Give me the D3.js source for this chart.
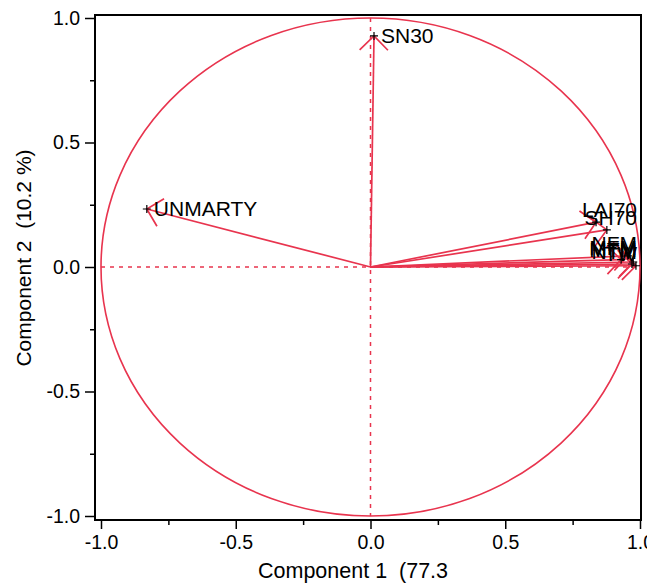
<!DOCTYPE html>
<html>
<head>
<meta charset="utf-8">
<script src="https://cdn.jsdelivr.net/npm/d3@7"></script>
<style>
  body { margin: 0; background: #fff; }
  text { font-family: "Liberation Sans", Arial, sans-serif; }
</style>
</head>
<body>
<svg id="chart" width="647" height="584"></svg>
<script>
// loadings
const names = ['SN30', 'UNMARTY', 'LAI70', 'SH70', 'NFM', 'MFM', 'MTM', 'TW', 'NTM']
const comp1 = [0.013, -0.83, 0.837, 0.877, 0.955, 0.93, 0.975, 0.985, 0.97]
const comp2 = [0.928, 0.233, 0.18, 0.149, 0.045, 0.03, 0.02, 0.005, 0.012]
const majorTicks = [-1.0, -0.5, 0.0, 0.5, 1.0]
const minorTicks = [-0.75, -0.25, 0.25, 0.75]
const xTitle = 'Component 1  (77.3'
const yTitle = 'Component 2  (10.2 %)'

const red = '#e8344e'
const frame = { left: 95, right: 641, top: 15, bottom: 520 }

const svg = d3.select('#chart')

const x = d3.scaleLinear().domain([-1, 1]).range([101, 640])
const y = d3.scaleLinear().domain([-1, 1]).range([516, 18])

const fmt = d => d3.format('.1f')(d).replace('\u2212', '-')

// Y axis, major and minor ticks
svg.append('g')
    .attr('transform', 'translate(' + frame.left + ',0)')
    .call(d3.axisLeft(y).tickValues(majorTicks).tickSize(10).tickPadding(5).tickFormat(fmt))
    .call(g => g.select('.domain').remove())
    .call(g => g.selectAll('text').attr('font-size', 19.5).attr('font-family', null).attr('fill', '#000'))
    .call(g => g.selectAll('line').attr('stroke', '#000').attr('stroke-width', 1.5))
svg.append('g')
    .attr('transform', 'translate(' + frame.left + ',0)')
    .call(d3.axisLeft(y).tickValues(minorTicks).tickSize(5).tickFormat(''))
    .call(g => g.select('.domain').remove())
    .call(g => g.selectAll('line').attr('stroke', '#000').attr('stroke-width', 1.5))

// X axis
svg.append('g')
    .attr('transform', 'translate(0,' + frame.bottom + ')')
    .call(d3.axisBottom(x).tickValues(majorTicks).tickSize(9).tickPadding(6).tickFormat(fmt))
    .call(g => g.select('.domain').remove())
    .call(g => g.selectAll('text').attr('font-size', 19.5).attr('font-family', null).attr('fill', '#000'))
    .call(g => g.selectAll('line').attr('stroke', '#000').attr('stroke-width', 1.5))
svg.append('g')
    .attr('transform', 'translate(0,' + frame.bottom + ')')
    .call(d3.axisBottom(x).tickValues(minorTicks).tickSize(5).tickFormat(''))
    .call(g => g.select('.domain').remove())
    .call(g => g.selectAll('line').attr('stroke', '#000').attr('stroke-width', 1.5))

// plot frame
svg.append('rect')
    .attr('x', frame.left)
    .attr('y', frame.top)
    .attr('width', frame.right - frame.left)
    .attr('height', frame.bottom - frame.top)
    .attr('fill', 'none')
    .attr('stroke', '#000')
    .attr('stroke-width', 2)

// dotted zero lines
svg.append('line')
    .attr('x1', x(-1)).attr('x2', x(1))
    .attr('y1', y(0)).attr('y2', y(0))
    .attr('stroke', red).attr('stroke-width', 1.5).attr('stroke-dasharray', '4,5')
svg.append('line')
    .attr('x1', x(0)).attr('x2', x(0))
    .attr('y1', y(1)).attr('y2', y(-1))
    .attr('stroke', red).attr('stroke-width', 1.5).attr('stroke-dasharray', '4,5')

// correlation circle
svg.append('ellipse')
    .attr('cx', x(0)).attr('cy', y(0))
    .attr('rx', x(1) - x(0)).attr('ry', y(0) - y(1))
    .attr('fill', 'none')
    .attr('stroke', red)
    .attr('stroke-width', 1.6)

// vectors with arrow heads
const points = names.map((n, i) => ({ name: n, px: x(comp1[i]), py: y(comp2[i]) }))
const ox = x(0), oy = y(0)
const headLen = 20, headAng = Math.PI / 4

const vec = svg.append('g')
    .attr('stroke', red)
    .attr('stroke-width', 1.7)
    .attr('fill', 'none')
points.forEach(p => {
  const back = Math.atan2(oy - p.py, ox - p.px)
  const w1 = [p.px + headLen * Math.cos(back + headAng), p.py + headLen * Math.sin(back + headAng)]
  const w2 = [p.px + headLen * Math.cos(back - headAng), p.py + headLen * Math.sin(back - headAng)]
  vec.append('line').attr('x1', ox).attr('y1', oy).attr('x2', p.px).attr('y2', p.py)
  vec.append('path').attr('d', 'M' + w1 + 'L' + p.px + ',' + p.py + 'L' + w2)
})

// + markers and labels, labels kept inside the frame
const lab = svg.append('g')
points.forEach(p => {
  lab.append('path')
      .attr('d', 'M' + (p.px - 4) + ',' + p.py + 'h8M' + p.px + ',' + (p.py - 4) + 'v8')
      .attr('stroke', '#000').attr('stroke-width', 1.2)
  const t = lab.append('text')
      .attr('font-size', 21)
      .attr('fill', '#000')
      .text(p.name)
  const w = t.node().getComputedTextLength()
  let tx = p.px + 7, ty = p.py + 7
  if (tx + w > frame.right - 4) {
    tx = frame.right - 4 - w
    ty = p.py - 5
  }
  t.attr('x', tx).attr('y', ty)
})

// axis titles
svg.append('text')
    .attr('x', 258)
    .attr('y', 578)
    .attr('font-size', 21.5)
    .style('white-space', 'pre')
    .text(xTitle)
svg.append('text')
    .attr('transform', 'translate(31,258) rotate(-90)')
    .attr('text-anchor', 'middle')
    .attr('font-size', 21)
    .style('white-space', 'pre')
    .text(yTitle)
</script>
</body>
</html>
